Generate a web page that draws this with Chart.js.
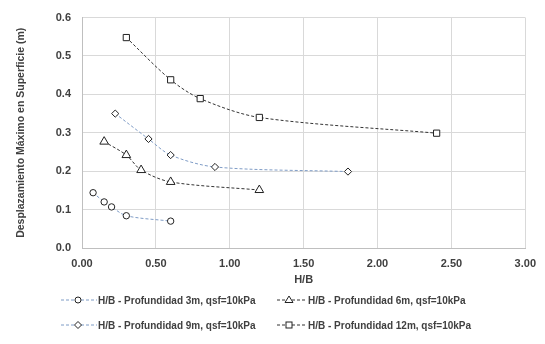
<!DOCTYPE html>
<html><head><meta charset="utf-8">
<script src="https://cdn.jsdelivr.net/npm/chart.js@4.4.0/dist/chart.umd.min.js"></script>
<style>
html,body{margin:0;padding:0;background:#fff;}
#wrap{position:relative;width:545px;height:344px;}
canvas{position:absolute;left:0;top:0;}
.leg{position:absolute;font-family:"Liberation Sans",Arial,sans-serif;font-size:10px;font-weight:bold;color:#404040;white-space:nowrap;display:flex;align-items:center;}
.leg svg{margin-right:1px;}
</style></head>
<body><div id="wrap"><canvas id="c" width="545" height="344"></canvas>
<div id="legend"></div></div>
<script>
const seriesNames = ["H/B - Profundidad 3m, qsf=10kPa","H/B - Profundidad 6m, qsf=10kPa","H/B - Profundidad 9m, qsf=10kPa","H/B - Profundidad 12m, qsf=10kPa"];
const x3m = [0.075,0.15,0.20,0.30,0.60];
const y3m = [0.144,0.120,0.107,0.084,0.070];
const x6m = [0.15,0.30,0.40,0.60,1.20];
const y6m = [0.277,0.242,0.203,0.172,0.151];
const x9m = [0.225,0.45,0.60,0.90,1.80];
const y9m = [0.350,0.284,0.242,0.211,0.199];
const x12m = [0.30,0.60,0.80,1.20,2.40];
const y12m = [0.548,0.438,0.389,0.340,0.299];
const xTicks = [0,0.5,1,1.5,2,2.5,3];
const yTicks = [0,0.1,0.2,0.3,0.4,0.5,0.6];
const xTitle = "H/B";
const yTitle = "Desplazamiento Máximo en Superficie (m)";

const blue = "#7f9cc6", dark = "#333333";
const styles = [
  {line:blue, style:'circle', r:3.2},
  {line:dark, style:'triangle', r:5},
  {line:blue, style:'rectRot', r:3.6},
  {line:dark, style:'rect', r:4.4}
];
const xs=[x3m,x6m,x9m,x12m], ys=[y3m,y6m,y9m,y12m];
const datasets = seriesNames.map((n,i)=>({
  label:n,
  data: xs[i].map((x,j)=>({x:x,y:ys[i][j]})),
  borderColor: styles[i].line,
  borderWidth: 1,
  borderDash: [3,2],
  tension: 0.3,
  pointStyle: styles[i].style,
  pointRadius: styles[i].r,
  pointBorderColor: "#222",
  pointBackgroundColor: "#fff",
  pointBorderWidth: 1,
  showLine: true,
  fill:false
}));
const tickFont = {family:"'Liberation Sans', Arial, sans-serif", size:11, weight:'bold'};
new Chart(document.getElementById('c'), {
  type:'scatter',
  data:{datasets},
  options:{
    responsive:false, animation:false,
    layout:{padding:{left:0,right:19,top:15,bottom:57}},
    plugins:{legend:{display:false},tooltip:{enabled:false}},
    scales:{
      x:{type:'linear',min:0,max:3,
        afterBuildTicks:(s)=>{s.ticks = xTicks.map(v=>({value:v}));},
        afterFit:(s)=>{s.height=39;},
        ticks:{padding:9,font:tickFont,color:'#404040',callback:v=>Number(v).toFixed(2)},
        grid:{color:'#d9d9d9',drawTicks:false},
        border:{color:'#bfbfbf'},
        title:{display:true,text:xTitle,font:tickFont,color:'#404040',padding:{top:0,bottom:0}}
      },
      y:{type:'linear',min:0,max:0.6,
        afterBuildTicks:(s)=>{s.ticks = yTicks.map(v=>({value:v}));},
        afterFit:(s)=>{s.width=82;},
        ticks:{padding:11,font:tickFont,color:'#404040',callback:v=>Number(v).toFixed(1)},
        grid:{color:'#d9d9d9',drawTicks:false},
        border:{color:'#bfbfbf'},
        title:{display:true,text:yTitle,font:{family:"'Liberation Sans', Arial, sans-serif",size:10.5,weight:'bold'},color:'#404040',padding:{top:15,bottom:0}}
      }
    }
  }
});
// HTML legend
const legPos = [{l:61,t:301,lw:36,m:17},{l:277,t:301,lw:30,m:12},{l:61,t:326,lw:36,m:17},{l:277,t:326,lw:30,m:12}];
function markerSvg(i, lw, m){
  const c = styles[i].line;
  let mk='';
  if(styles[i].style==='circle') mk=`<circle cx="${m}" cy="6" r="3" fill="#fff" stroke="#222" stroke-width="1"/>`;
  if(styles[i].style==='triangle') mk=`<polygon points="${m-4},8.5 ${m+4},8.5 ${m},2" fill="#fff" stroke="#222" stroke-width="1"/>`;
  if(styles[i].style==='rectRot') mk=`<polygon points="${m-3.5},6 ${m},2.5 ${m+3.5},6 ${m},9.5" fill="#fff" stroke="#222" stroke-width="1"/>`;
  if(styles[i].style==='rect') mk=`<rect x="${m-3}" y="3" width="6" height="6" fill="#fff" stroke="#222" stroke-width="1"/>`;
  return `<svg width="${lw}" height="12"><line x1="0" y1="6" x2="${lw}" y2="6" stroke="${c}" stroke-width="1" stroke-dasharray="3,2"/>${mk}</svg>`;
}
const legEl = document.getElementById('legend');
seriesNames.forEach((n,i)=>{
  const d=document.createElement('div');
  d.className='leg';
  d.style.left=legPos[i].l+'px';
  d.style.top=(legPos[i].t-7)+'px';
  d.innerHTML = markerSvg(i,legPos[i].lw,legPos[i].m)+'<span>'+n+'</span>';
  legEl.appendChild(d);
});
</script></body></html>
